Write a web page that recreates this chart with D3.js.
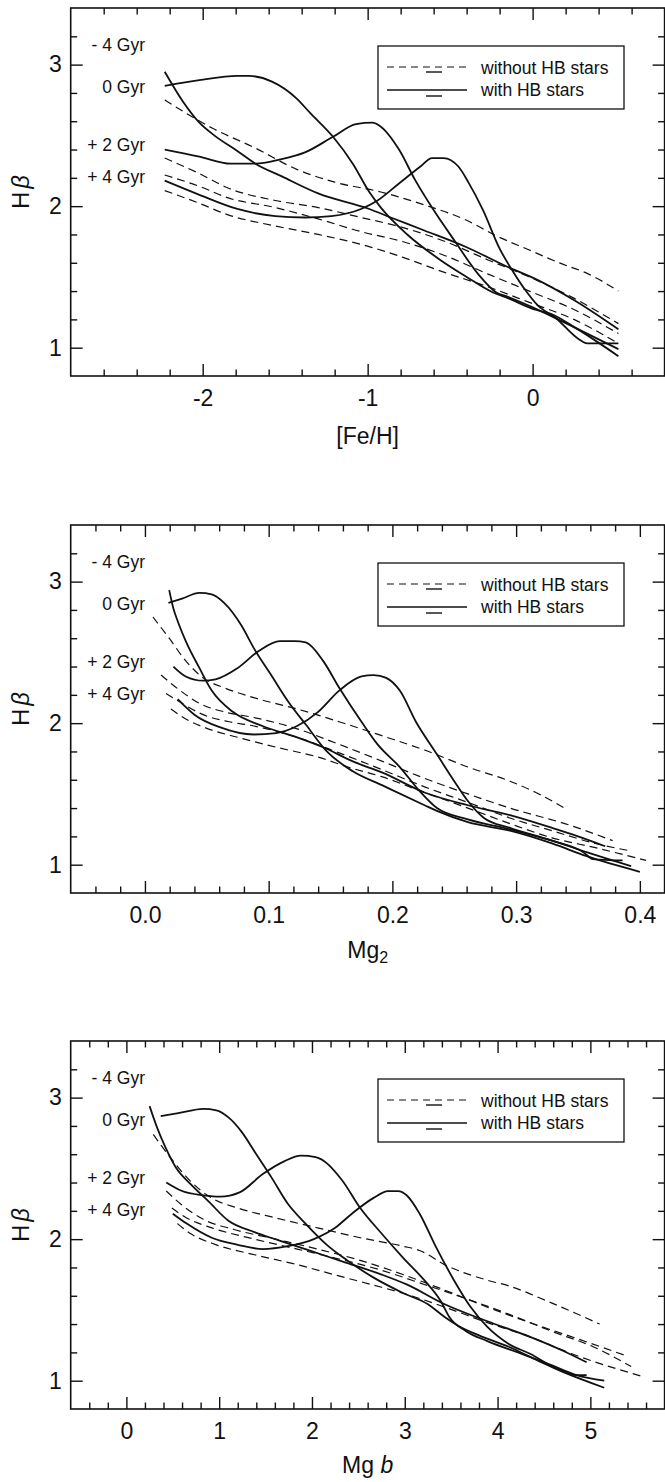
<!DOCTYPE html>
<html><head><meta charset="utf-8">
<script src="https://cdn.jsdelivr.net/npm/d3@7"></script>
<style>
body{margin:0;background:#fff;}
svg{display:block;font-family:"Liberation Sans",Arial,Helvetica,sans-serif;}
</style></head>
<body><svg id="c" width="665" height="1482"></svg>
<script>
// ---------- DATA ----------
const ageLabels = ["- 4 Gyr", "0 Gyr", "+ 2 Gyr", "+ 4 Gyr"];
const legendLabels = ["without HB stars", "with HB stars"];
const yTicksMajor = [1, 2, 3];
const xTicks1 = [-2, -1, 0];
const xTicks2 = [0.0, 0.1, 0.2, 0.3, 0.4];
const xTicks3 = [0, 1, 2, 3, 4, 5];

// Panel 1: Hbeta vs [Fe/H]
const p1_woHB_m4 = [[-2.23,2.75],[-1.94,2.55],[-1.68,2.41],[-1.43,2.26],[-1.20,2.17],[-0.92,2.10],[-0.66,2.01],[-0.40,1.90],[-0.22,1.79],[-0.02,1.69],[0.16,1.60],[0.34,1.52],[0.52,1.40]];
const p1_woHB_0  = [[-2.23,2.34],[-2.02,2.23],[-1.85,2.13],[-1.56,2.04],[-1.30,1.99],[-1.04,1.92],[-0.79,1.85],[-0.53,1.75],[-0.27,1.62],[-0.02,1.50],[0.25,1.35],[0.52,1.17]];
const p1_woHB_2  = [[-2.23,2.22],[-2.02,2.14],[-1.85,2.06],[-1.56,1.99],[-1.30,1.91],[-1.04,1.82],[-0.79,1.75],[-0.53,1.65],[-0.27,1.52],[-0.02,1.40],[0.25,1.27],[0.52,1.10]];
const p1_woHB_4  = [[-2.23,2.11],[-2.02,2.02],[-1.85,1.94],[-1.56,1.86],[-1.30,1.80],[-1.04,1.73],[-0.79,1.64],[-0.53,1.53],[-0.27,1.43],[-0.02,1.32],[0.25,1.20],[0.52,1.03]];
const p1_HB_m4 = [[-2.23,2.95],[-2.12,2.74],[-2.02,2.59],[-1.93,2.50],[-1.79,2.39],[-1.68,2.30],[-1.52,2.21],[-1.30,2.09],[-0.99,1.98],[-0.86,1.92],[-0.66,1.83],[-0.40,1.71],[-0.15,1.57],[0.01,1.49],[0.26,1.33],[0.52,1.13]];
const p1_HB_0  = [[-2.23,2.85],[-2.02,2.89],[-1.79,2.92],[-1.72,2.92],[-1.58,2.88],[-1.43,2.76],[-1.35,2.66],[-1.21,2.49],[-1.09,2.30],[-0.99,2.10],[-0.92,1.99],[-0.76,1.80],[-0.56,1.62],[-0.40,1.50],[-0.24,1.39],[-0.15,1.35],[0.01,1.27],[0.11,1.24],[0.26,1.14],[0.52,0.94]];
const p1_HB_2  = [[-2.23,2.40],[-2.02,2.35],[-1.83,2.30],[-1.68,2.30],[-1.53,2.33],[-1.38,2.38],[-1.21,2.49],[-1.07,2.58],[-0.97,2.59],[-0.93,2.57],[-0.81,2.40],[-0.71,2.18],[-0.61,1.99],[-0.47,1.75],[-0.33,1.52],[-0.22,1.39],[-0.15,1.36],[0.01,1.28],[0.26,1.14],[0.52,0.99]];
const p1_HB_4  = [[-2.23,2.18],[-2.02,2.08],[-1.79,1.98],[-1.56,1.93],[-1.38,1.92],[-1.22,1.93],[-1.04,1.98],[-0.94,2.04],[-0.81,2.16],[-0.68,2.28],[-0.61,2.34],[-0.54,2.34],[-0.45,2.28],[-0.39,2.17],[-0.30,1.97],[-0.20,1.70],[-0.12,1.54],[-0.04,1.40],[0.03,1.30],[0.14,1.21],[0.28,1.06],[0.33,1.03],[0.52,1.03]];

// Panel 2: Hbeta vs Mg2
const p2_woHB_m4 = [[0.0065,2.75],[0.0196,2.60],[0.033,2.44],[0.047,2.32],[0.064,2.25],[0.088,2.18],[0.123,2.10],[0.157,2.01],[0.192,1.91],[0.226,1.81],[0.261,1.69],[0.295,1.59],[0.316,1.51],[0.341,1.39]];
const p2_woHB_0  = [[0.013,2.34],[0.027,2.24],[0.044,2.14],[0.064,2.08],[0.088,2.04],[0.123,1.96],[0.157,1.85],[0.192,1.73],[0.226,1.61],[0.261,1.50],[0.295,1.40],[0.343,1.28],[0.378,1.17]];
const p2_woHB_2  = [[0.017,2.21],[0.030,2.14],[0.047,2.06],[0.068,2.01],[0.088,1.98],[0.123,1.90],[0.157,1.79],[0.192,1.67],[0.226,1.55],[0.261,1.44],[0.295,1.33],[0.329,1.24],[0.364,1.15],[0.391,1.10]];
const p2_woHB_4  = [[0.021,2.10],[0.033,2.03],[0.051,1.96],[0.075,1.90],[0.106,1.83],[0.140,1.76],[0.164,1.69],[0.192,1.62],[0.226,1.51],[0.261,1.40],[0.295,1.29],[0.329,1.19],[0.364,1.12],[0.405,1.03]];
const p2_HB_m4 = [[0.0196,2.94],[0.023,2.81],[0.0265,2.72],[0.033,2.58],[0.044,2.39],[0.054,2.23],[0.071,2.08],[0.095,1.98],[0.123,1.90],[0.144,1.83],[0.168,1.73],[0.192,1.65],[0.226,1.51],[0.261,1.42],[0.295,1.35],[0.329,1.26],[0.350,1.20],[0.372,1.13]];
const p2_HB_0  = [[0.019,2.85],[0.030,2.88],[0.044,2.92],[0.054,2.91],[0.064,2.85],[0.078,2.69],[0.088,2.53],[0.102,2.34],[0.116,2.15],[0.130,1.99],[0.147,1.80],[0.168,1.66],[0.192,1.56],[0.226,1.42],[0.236,1.38],[0.261,1.30],[0.295,1.24],[0.329,1.15],[0.357,1.06],[0.400,0.95]];
const p2_HB_2  = [[0.023,2.40],[0.033,2.33],[0.047,2.30],[0.057,2.31],[0.075,2.39],[0.092,2.51],[0.109,2.58],[0.121,2.58],[0.130,2.57],[0.144,2.44],[0.157,2.25],[0.175,2.01],[0.188,1.85],[0.206,1.69],[0.222,1.52],[0.236,1.40],[0.261,1.32],[0.295,1.25],[0.329,1.17],[0.360,1.08],[0.393,0.99]];
const p2_HB_4  = [[0.0265,2.17],[0.040,2.06],[0.061,1.97],[0.088,1.92],[0.106,1.93],[0.123,1.98],[0.140,2.08],[0.157,2.23],[0.175,2.33],[0.185,2.34],[0.195,2.32],[0.206,2.23],[0.219,2.01],[0.236,1.78],[0.250,1.59],[0.261,1.45],[0.274,1.33],[0.295,1.26],[0.329,1.17],[0.354,1.09],[0.362,1.04],[0.386,1.03]];

// Panel 3: Hbeta vs Mg b
const p3_woHB_m4 = [[0.29,2.74],[0.47,2.58],[0.69,2.41],[0.92,2.29],[1.20,2.22],[1.61,2.15],[2.06,2.08],[2.52,2.01],[2.98,1.95],[3.16,1.92],[3.43,1.82],[3.89,1.71],[4.12,1.67],[4.58,1.55],[5.10,1.40]];
const p3_woHB_0  = [[0.43,2.34],[0.60,2.24],[0.83,2.14],[1.15,2.07],[1.61,2.00],[2.06,1.93],[2.52,1.85],[2.98,1.75],[3.43,1.64],[3.89,1.52],[4.35,1.41],[4.80,1.31],[5.37,1.18]];
const p3_woHB_2  = [[0.49,2.22],[0.65,2.15],[0.92,2.08],[1.38,2.00],[1.84,1.93],[2.29,1.86],[2.75,1.78],[3.21,1.68],[3.66,1.58],[4.12,1.47],[4.58,1.35],[5.03,1.24],[5.44,1.10]];
const p3_woHB_4  = [[0.55,2.11],[0.69,2.04],[0.97,1.96],[1.38,1.89],[1.84,1.82],[2.29,1.74],[2.75,1.66],[3.02,1.61],[3.43,1.52],[3.89,1.41],[4.35,1.31],[4.80,1.19],[5.56,1.03]];
const p3_HB_m4 = [[0.25,2.94],[0.33,2.79],[0.42,2.65],[0.53,2.51],[0.69,2.39],[0.88,2.27],[1.10,2.13],[1.38,2.05],[1.65,1.99],[1.97,1.92],[2.34,1.84],[2.75,1.75],[3.02,1.68],[3.43,1.54],[3.89,1.42],[4.35,1.31],[4.71,1.21],[4.96,1.13]];
const p3_HB_0  = [[0.37,2.87],[0.56,2.89],[0.83,2.92],[0.97,2.91],[1.10,2.86],[1.24,2.76],[1.40,2.60],[1.56,2.44],[1.74,2.25],[1.93,2.11],[2.16,1.96],[2.38,1.85],[2.66,1.73],[2.98,1.62],[3.25,1.54],[3.43,1.45],[3.57,1.39],[3.80,1.32],[4.12,1.24],[4.44,1.14],[4.71,1.06],[5.15,0.95]];
const p3_HB_2  = [[0.43,2.40],[0.60,2.34],[0.83,2.31],[1.01,2.30],[1.22,2.33],[1.47,2.46],[1.70,2.55],[1.88,2.59],[2.04,2.58],[2.32,2.42],[2.52,2.22],[2.75,2.04],[2.98,1.87],[3.21,1.71],[3.39,1.56],[3.48,1.45],[3.66,1.35],[3.89,1.28],[4.26,1.19],[4.58,1.11],[4.85,1.04],[5.15,1.00]];
const p3_HB_4  = [[0.50,2.18],[0.65,2.11],[0.92,2.01],[1.20,1.96],[1.47,1.93],[1.74,1.95],[2.02,2.00],[2.25,2.08],[2.43,2.18],[2.66,2.29],[2.82,2.34],[2.93,2.34],[3.02,2.31],[3.16,2.18],[3.34,1.94],[3.53,1.71],[3.71,1.52],[3.89,1.38],[4.12,1.26],[4.35,1.19],[4.62,1.09],[4.85,1.04],[4.96,1.04]];

// ---------- LAYOUT ----------
const L = 70.7, R = 664.6, H = 368;
const panels = [
  {top: 8,    xd: [-2.8, 0.8],  major: xTicks1, minorStep: 0.2,  fmt: d => String(d),
   woHB: [p1_woHB_m4, p1_woHB_0, p1_woHB_2, p1_woHB_4], HB: [p1_HB_m4, p1_HB_0, p1_HB_2, p1_HB_4], title: "feh", titleY: 444},
  {top: 525,  xd: [-0.06, 0.42], major: xTicks2, minorStep: 0.02, fmt: d => d.toFixed(1),
   woHB: [p2_woHB_m4, p2_woHB_0, p2_woHB_2, p2_woHB_4], HB: [p2_HB_m4, p2_HB_0, p2_HB_2, p2_HB_4], title: "mg2", titleY: 958},
  {top: 1041, xd: [-0.6, 5.8],  major: xTicks3, minorStep: 0.2,  fmt: d => String(d),
   woHB: [p3_woHB_m4, p3_woHB_0, p3_woHB_2, p3_woHB_4], HB: [p3_HB_m4, p3_HB_0, p3_HB_2, p3_HB_4], title: "mgb", titleY: 1473}
];

const svg = d3.select("#c");
const yDomain = [0.8, 3.4];
const FONT = '"Liberation Sans",Arial,Helvetica,sans-serif';

function minorTicks(domain, step, majors) {
  const out = [];
  const n0 = Math.ceil(domain[0] / step - 1e-6), n1 = Math.floor(domain[1] / step + 1e-6);
  for (let i = n0; i <= n1; i++) {
    const v = +(i * step).toFixed(6);
    if (v <= domain[0] + 1e-9 || v >= domain[1] - 1e-9) continue;
    if (majors.some(m => Math.abs(m - v) < 1e-6)) continue;
    out.push(v);
  }
  return out;
}

panels.forEach(p => {
  const g = svg.append("g");
  const x = d3.scaleLinear().domain(p.xd).range([L, R]);
  const y = d3.scaleLinear().domain(yDomain).range([p.top + H, p.top]);
  const B = p.top + H;

  const xMinor = minorTicks(p.xd, p.minorStep, p.major);
  const yMinor = minorTicks(yDomain, 0.2, yTicksMajor);

  function axis(gen, tr, vals, size, labels, pad) {
    const a = gen.tickValues(vals).tickSizeInner(-size).tickSizeOuter(0).tickPadding(pad || 0)
      .tickFormat(labels ? labels : () => "");
    const ga = g.append("g").attr("transform", tr).call(a);
    ga.select(".domain").remove();
    ga.selectAll("line").attr("stroke", "#111").attr("stroke-width", 1.4);
    ga.selectAll("text").attr("fill", "#111").attr("font-size", 23).attr("font-family", FONT);
    return ga;
  }
  axis(d3.axisBottom(x), `translate(0,${B})`, p.major, 12, p.fmt, 14);
  axis(d3.axisBottom(x), `translate(0,${B})`, xMinor, 6.5);
  axis(d3.axisTop(x), `translate(0,${p.top})`, p.major, 12);
  axis(d3.axisTop(x), `translate(0,${p.top})`, xMinor, 6.5);
  axis(d3.axisLeft(y), `translate(${L},0)`, yTicksMajor, 12, d => String(d), 9);
  axis(d3.axisLeft(y), `translate(${L},0)`, yMinor, 6.5);
  axis(d3.axisRight(y), `translate(${R},0)`, yTicksMajor, 12);
  axis(d3.axisRight(y), `translate(${R},0)`, yMinor, 6.5);

  g.append("rect").attr("x", L).attr("y", p.top).attr("width", R - L).attr("height", H)
    .attr("fill", "none").attr("stroke", "#111").attr("stroke-width", 1.6);

  const line = d3.line().x(d => x(d[0])).y(d => y(d[1])).curve(d3.curveMonotoneX);
  p.woHB.forEach(s => {
    g.append("path").attr("d", line(s)).attr("fill", "none").attr("stroke", "#111")
      .attr("stroke-width", 1.2).attr("stroke-dasharray", "8,5");
  });
  p.HB.forEach(s => {
    g.append("path").attr("d", line(s)).attr("fill", "none").attr("stroke", "#111")
      .attr("stroke-width", 1.8);
  });

  const ageOff = [43, 85, 143, 175];
  ageLabels.forEach((t, i) => {
    g.append("text").attr("x", 145).attr("y", p.top + ageOff[i]).attr("text-anchor", "end")
      .attr("font-size", 17.5).attr("fill", "#111").text(t);
  });

  const lt = p.top;
  g.append("rect").attr("x", 378).attr("y", lt + 38).attr("width", 246).attr("height", 63)
    .attr("fill", "#fff").attr("stroke", "#111").attr("stroke-width", 1.3);
  g.append("line").attr("x1", 387).attr("x2", 467).attr("y1", lt + 59).attr("y2", lt + 59)
    .attr("stroke", "#111").attr("stroke-width", 1.2).attr("stroke-dasharray", "7,5");
  g.append("line").attr("x1", 426).attr("x2", 442).attr("y1", lt + 64).attr("y2", lt + 64)
    .attr("stroke", "#111").attr("stroke-width", 1.4);
  g.append("line").attr("x1", 387).attr("x2", 467).attr("y1", lt + 82).attr("y2", lt + 82)
    .attr("stroke", "#111").attr("stroke-width", 1.6);
  g.append("line").attr("x1", 426).attr("x2", 442).attr("y1", lt + 88).attr("y2", lt + 88)
    .attr("stroke", "#111").attr("stroke-width", 1.4);
  g.append("text").attr("x", 481).attr("y", lt + 66).attr("font-size", 17.5).attr("fill", "#111").text(legendLabels[0]);
  g.append("text").attr("x", 481).attr("y", lt + 88).attr("font-size", 17.5).attr("fill", "#111").text(legendLabels[1]);

  const cy = p.top + H / 2;
  const yt = g.append("text").attr("transform", `translate(29,${cy}) rotate(-90)`)
    .attr("text-anchor", "middle").attr("font-size", 24).attr("fill", "#111");
  yt.append("tspan").text("H");
  yt.append("tspan").attr("font-style", "italic").attr("dx", 3).text("β");

  const xt = g.append("text").attr("x", (L + R) / 2).attr("y", p.titleY).attr("text-anchor", "middle")
    .attr("font-size", 23).attr("fill", "#111");
  if (p.title === "feh") xt.text("[Fe/H]");
  else if (p.title === "mg2") {
    xt.append("tspan").text("Mg");
    xt.append("tspan").attr("font-size", 16).attr("dy", 5).text("2");
  } else {
    xt.append("tspan").text("Mg ");
    xt.append("tspan").attr("font-style", "italic").text("b");
  }
});
</script></body></html>
